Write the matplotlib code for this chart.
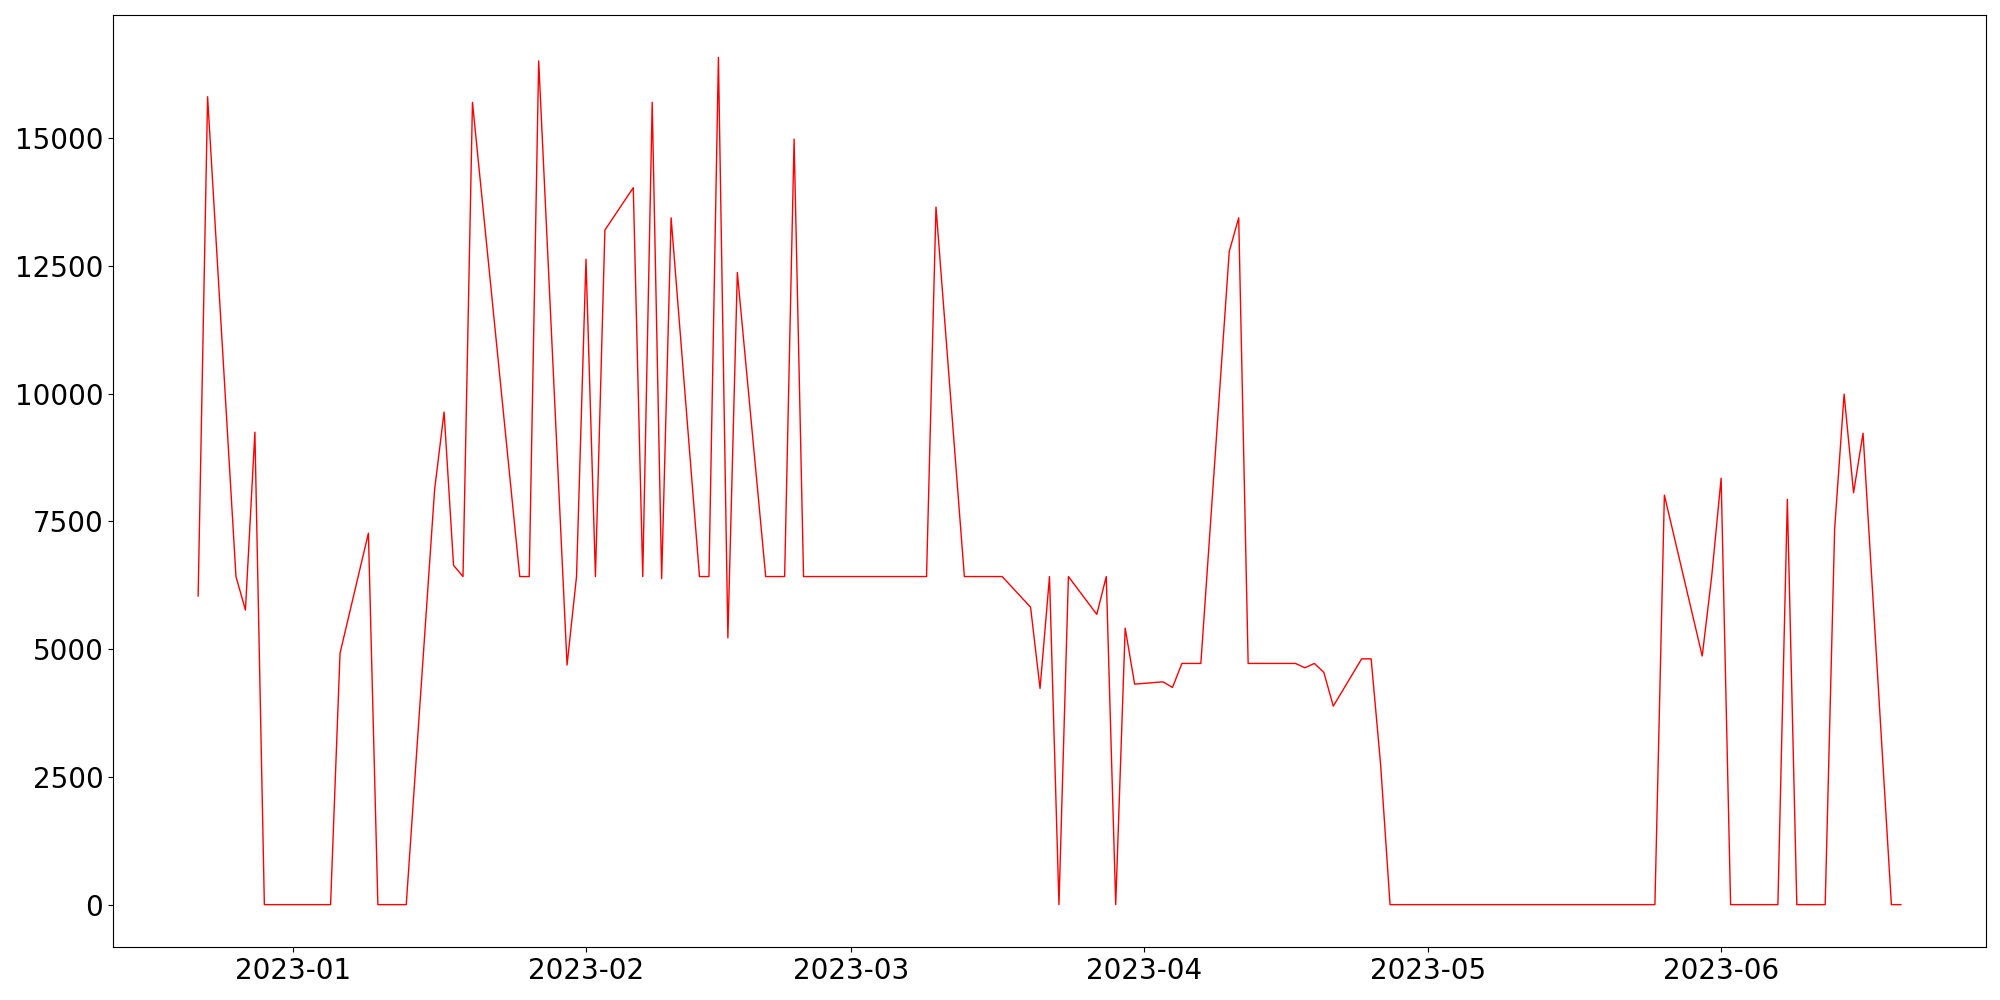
import pandas as pd
import matplotlib
matplotlib.use("Agg")
import matplotlib.pyplot as plt

# vertices (daily series, flat runs collapsed)
dates = ["2022-12-22", "2022-12-23", "2022-12-26", "2022-12-27", "2022-12-28", "2022-12-29",
         "2023-01-05", "2023-01-06", "2023-01-09", "2023-01-10", "2023-01-13", "2023-01-16",
         "2023-01-17", "2023-01-18", "2023-01-19", "2023-01-20", "2023-01-25", "2023-01-26",
         "2023-01-27", "2023-01-30", "2023-01-31", "2023-02-01", "2023-02-02", "2023-02-03",
         "2023-02-06", "2023-02-07", "2023-02-08", "2023-02-09", "2023-02-10", "2023-02-13",
         "2023-02-14", "2023-02-15", "2023-02-16", "2023-02-17", "2023-02-20", "2023-02-22",
         "2023-02-23", "2023-02-24", "2023-03-09", "2023-03-10", "2023-03-13", "2023-03-17",
         "2023-03-20", "2023-03-21", "2023-03-22", "2023-03-23", "2023-03-24", "2023-03-27",
         "2023-03-28", "2023-03-29", "2023-03-30", "2023-03-31", "2023-04-03", "2023-04-04",
         "2023-04-05", "2023-04-07", "2023-04-10", "2023-04-11", "2023-04-12", "2023-04-17",
         "2023-04-18", "2023-04-19", "2023-04-20", "2023-04-21", "2023-04-24", "2023-04-25",
         "2023-04-26", "2023-04-27", "2023-05-25", "2023-05-26", "2023-05-30", "2023-05-31",
         "2023-06-01", "2023-06-02", "2023-06-07", "2023-06-08", "2023-06-09", "2023-06-12",
         "2023-06-13", "2023-06-14", "2023-06-15", "2023-06-16", "2023-06-19", "2023-06-20"]

values = [6040, 15810, 6420, 5765, 9245, 0,
          0, 4920, 7270, 0, 0, 8125,
          9640, 6640, 6420, 15700, 6420, 6420,
          16510, 4690, 6420, 12630, 6420, 13200,
          14030, 6420, 15700, 6380, 13440, 6420,
          6420, 16580, 5220, 12370, 6420, 6420,
          14980, 6420, 6420, 13650, 6420, 6420,
          5820, 4230, 6420, 0, 6420, 5680,
          6420, 0, 5410, 4315, 4360, 4250,
          4720, 4720, 12780, 13440, 4720, 4720,
          4635, 4720, 4545, 3885, 4810, 4810,
          2750, 0, 0, 8015, 4865, 6420,
          8345, 0, 0, 7930, 0, 0,
          7355, 9990, 8060, 9225, 0, 0]

x = pd.to_datetime(dates)

fig = plt.figure(figsize=(20, 10), dpi=100)
ax = fig.add_axes([0.0565, 0.053, 0.9365, 0.932])
ax.plot(x, values, color="red", linewidth=1.0)
ax.tick_params(labelsize=20)

fig.savefig("out.png", dpi=100)
